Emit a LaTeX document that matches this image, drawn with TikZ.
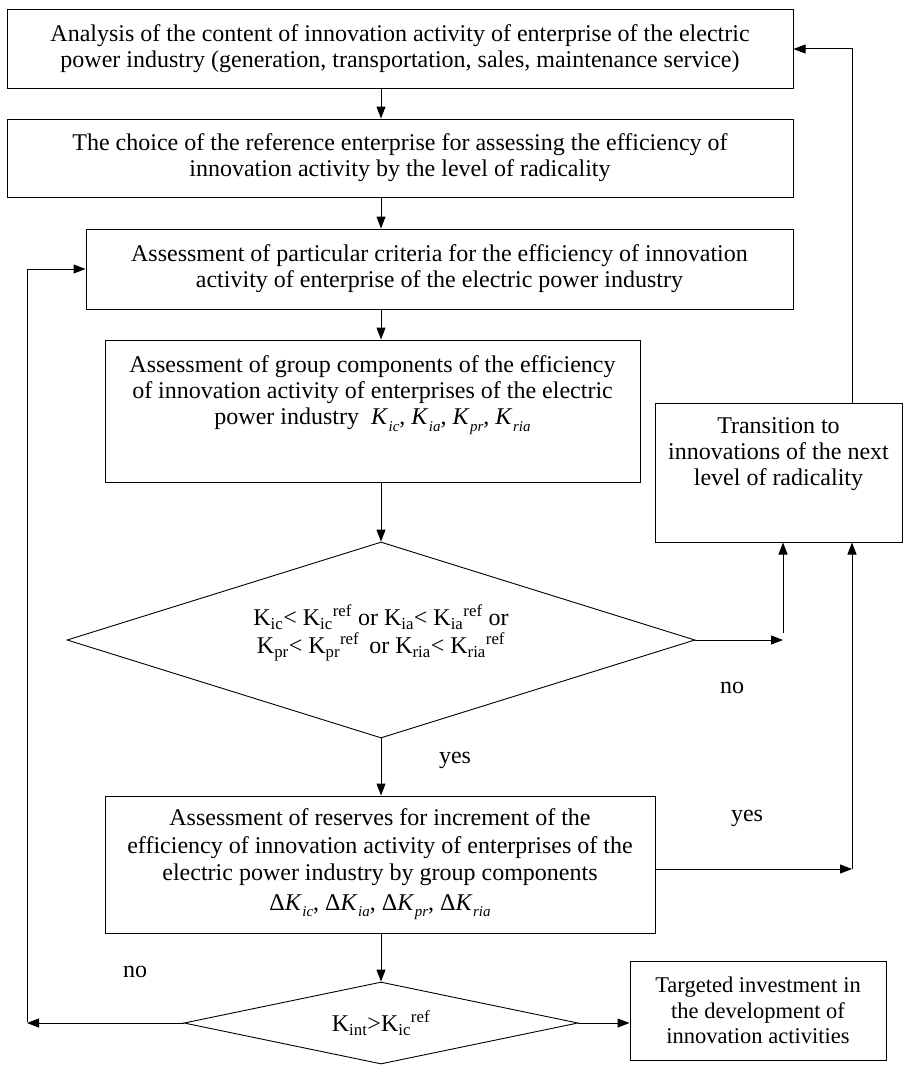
\documentclass[tikz,border=0pt]{standalone}
\usepackage{fontspec}
\setmainfont{Liberation Serif}
\usetikzlibrary{arrows.meta,shapes.geometric}
\newcommand{\Kit}[1]{{\itshape K}\kern1.5pt\raisebox{-0.6ex}{\fontsize{15}{15}\selectfont\itshape #1}}
\begin{document}
\begin{tikzpicture}[x=1pt,y=-1pt,
  box/.style={draw, line width=1pt, align=center, inner sep=0pt, font=\fontsize{24}{26}\selectfont},
  dia/.style={draw, diamond, line width=0.9pt, align=center, inner sep=0pt, font=\fontsize{24}{28}\selectfont},
  arr/.style={-{Triangle[length=12pt,width=9pt]}, line width=1pt},
  lbl/.style={font=\fontsize{24}{26}\selectfont}]
\fill[white] (0,0) rectangle (903,1065);
\useasboundingbox (0,0) rectangle (903,1065);

\node[box, minimum width=786, minimum height=78] (b1) at (400,49)
 {Analysis of the content of innovation activity of enterprise of the electric\\
  power industry (generation, transportation, sales, maintenance service)};
\node[box, minimum width=786, minimum height=78] (b2) at (400,158)
 {The choice of the reference enterprise for assessing the efficiency of\\
  innovation activity by the level of radicality};
\node[box, minimum width=707, minimum height=80] (b3) at (439.5,269)
 {Assessment of particular criteria for the efficiency of innovation\\
  activity of enterprise of the electric power industry};
\node[box, minimum width=535, minimum height=142] (b4) at (372.5,411)
 {Assessment of group components of the efficiency\\
  of innovation activity of enterprises of the electric\\
  power industry \ \Kit{ic}, \Kit{ia}, \Kit{pr}, \Kit{ria}\\[16pt]\mbox{}};
\node[box, minimum width=247, minimum height=139] (tr) at (778.5,472.5)
 {Transition to\\ innovations of the next\\ level of radicality\\[15pt]\mbox{}};
\node[dia, shape aspect=3.2, minimum width=628, minimum height=196] (d1) at (381,640)
 {K\textsubscript{ic}< K\textsubscript{ic}\textsuperscript{ref} or K\textsubscript{ia}< K\textsubscript{ia}\textsuperscript{ref} or\\
  K\textsubscript{pr}< K\textsubscript{pr}\textsuperscript{ref} \,or K\textsubscript{ria}< K\textsubscript{ria}\textsuperscript{ref}\\[-6pt]\mbox{}};
\node[box, minimum width=550, minimum height=137, font=\fontsize{24}{27.5}\selectfont] (b5) at (380,864.5)
 {Assessment of reserves for increment of the\\
  efficiency of innovation activity of enterprises of the\\
  electric power industry by group components\\[2pt]
  Δ\Kit{ic}, Δ\Kit{ia}, Δ\Kit{pr}, Δ\Kit{ria}};
\node[dia, shape aspect=4.8, minimum width=394, minimum height=82] (d2) at (381,1023)
 {K\textsubscript{int}>K\textsubscript{ic}\textsuperscript{ref}};
\node[box, minimum width=256, minimum height=99, font=\fontsize{22.5}{25.5}\selectfont] (tg) at (758,1010.5)
 {Targeted investment in\\ the development of\\ innovation activities};

\coordinate (ax) at (381,0);
\coordinate (nA) at (783,641);
\coordinate (nB) at (783,633);
\coordinate (rc) at (852,869);
\coordinate (lA) at (27,1022);

\draw[arr] (b1.south -| ax) -- (b2.north -| ax);
\draw[arr] (b2.south -| ax) -- (b3.north -| ax);
\draw[arr] (b3.south -| ax) -- (b4.north -| ax);
\draw[arr] (b4.south -| ax) -- (d1.north);
\draw[arr] (d1.south) -- (b5.north -| ax);
\draw[arr] (b5.south -| ax) -- (d2.north);
\draw[arr] (d1.east) -- (d1.east -| nA);
\draw[arr] (nB) -- (nB |- tr.south);
\draw[arr] (b5.east |- rc) -- (rc);
\draw[arr] (rc) -- (rc |- tr.south);
\draw[arr] (tr.north -| rc) |- (b1.east);
\draw[arr] (d2.west) -- (d2.west -| lA);
\draw[arr] (lA) |- (b3.west);
\draw[arr] (d2.east) -- (d2.east -| tg.west);

\node[lbl] (no1) at (732,688) {no};
\node[lbl] (yes1) at (455,760) {yes};
\node[lbl] (yes2) at (747,818) {yes};
\node[lbl] (no2) at (135,972) {no};
\end{tikzpicture}
\end{document}
